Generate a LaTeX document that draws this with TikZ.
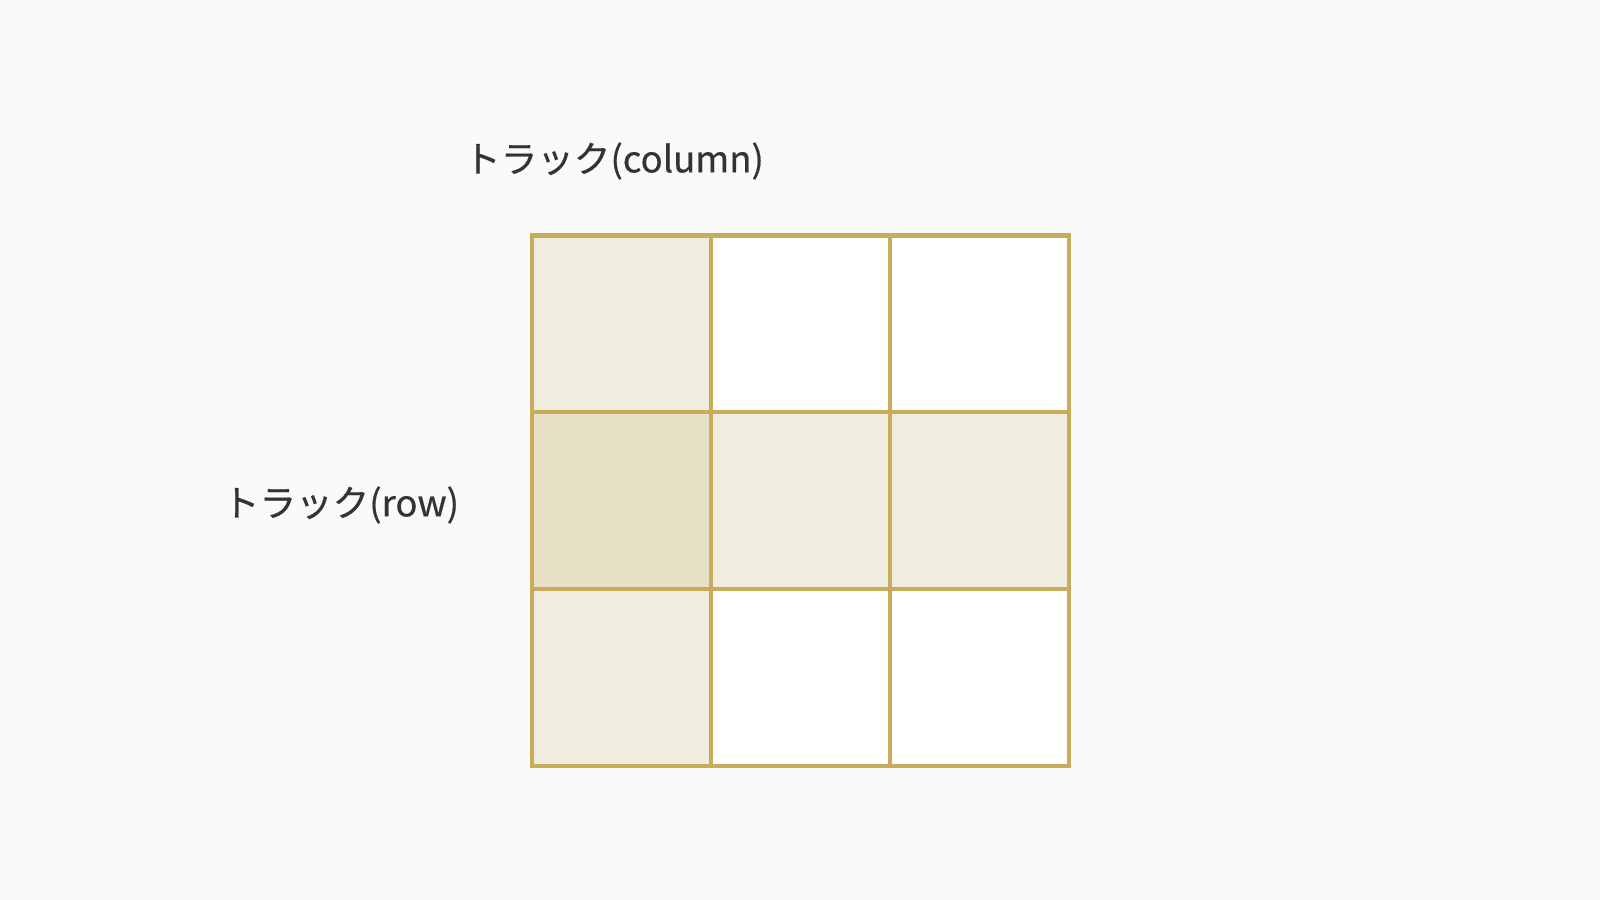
\documentclass[tikz,border=0pt]{standalone}
\usepackage{fontspec}
\newfontfamily\jpfont[FakeBold=0.5]{Noto Sans CJK JP}
\definecolor{bg}{HTML}{FAFAFA}
\definecolor{gridline}{HTML}{C8AB5B}
\definecolor{tracklight}{HTML}{F0ECDF}
\definecolor{trackdark}{HTML}{E7E0C6}
\definecolor{labeltext}{HTML}{333333}
\tikzset{
  label text/.style={text=labeltext, font=\jpfont\fontsize{10.4}{12}\selectfont, inner sep=0pt},
  cell/.style={draw=gridline, line width=1.35pt, minimum width=1.79cm, minimum height=1.77cm, inner sep=0pt, outer sep=0pt}
}
\begin{document}
\begin{tikzpicture}[x=0.01cm,y=-0.01cm]
  \fill[bg] (0,0) rectangle (1600,900);
  \useasboundingbox (0,0) rectangle (1600,900);
  \draw
    (614,161) node[label text] (colname){トラック(column)}
    (341,505) node[label text] (rowname){トラック(row)};
  \begin{scope}[every node/.style={cell}]
    \node[fill=tracklight] (c11) at (621.5,324) {};
    \node[fill=white] (c12) at (800.5,324) {};
    \node[fill=white] (c13) at (979.5,324) {};
    \node[fill=trackdark] (c21) at (621.5,500.5) {};
    \node[fill=tracklight] (c22) at (800.5,500.5) {};
    \node[fill=tracklight] (c23) at (979.5,500.5) {};
    \node[fill=tracklight] (c31) at (621.5,677.5) {};
    \node[fill=white] (c32) at (800.5,677.5) {};
    \node[fill=white] (c33) at (979.5,677.5) {};
  \end{scope}
\end{tikzpicture}
\end{document}
